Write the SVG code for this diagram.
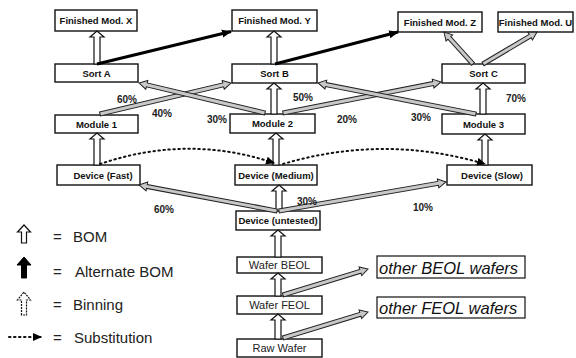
<svg xmlns="http://www.w3.org/2000/svg" width="576" height="358" viewBox="0 0 576 358">
<style>
.box{fill:#fff;stroke:#111;stroke-width:1.4}
.lbl{font-family:"Liberation Sans",Arial,sans-serif;font-size:9.5px;font-weight:bold;fill:#111;text-anchor:middle}
.wl{font-family:"Liberation Sans",Arial,sans-serif;font-size:11px;fill:#222;text-anchor:middle}
.ow{font-family:"Liberation Sans",Arial,sans-serif;font-size:16.5px;font-style:italic;fill:#111}
.pct{font-family:"Liberation Sans",Arial,sans-serif;font-size:10px;font-weight:bold;fill:#222;text-anchor:middle}
.leg{font-family:"Liberation Sans",Arial,sans-serif;font-size:15px;fill:#222}
.bom{fill:#fff;stroke:#111;stroke-width:1.2}
.bin{fill:#c8c8c8;stroke:#222;stroke-width:1}
.alt{stroke:#000;stroke-width:3;fill:none}
.sub{stroke:#111;stroke-width:2;fill:none;stroke-dasharray:1.5 3.5;stroke-linecap:round}
</style>
<defs>
<marker id="solid" markerWidth="10" markerHeight="10" refX="9" refY="5" orient="auto" markerUnits="userSpaceOnUse"><path d="M0,1 L10,5 L0,9 Z" fill="#000"/></marker>
<marker id="dot" markerWidth="9" markerHeight="9" refX="8" refY="4.5" orient="auto" markerUnits="userSpaceOnUse"><path d="M0,0.5 L9,4.5 L0,8.5 Z" fill="#000"/></marker>
</defs>
<rect width="576" height="358" fill="#fff"/>

<g id="nodes">
<g id="finX"><rect class="box" x="55" y="10" width="82" height="21"/><text class="lbl" x="96" y="24">Finished Mod. X</text></g>
<g id="finY"><rect class="box" x="232" y="10" width="85" height="21"/><text class="lbl" x="274.5" y="24">Finished Mod. Y</text></g>
<g id="finZ"><rect class="box" x="398" y="12" width="84" height="20"/><text class="lbl" x="440" y="25.5">Finished Mod. Z</text></g>
<g id="finU"><rect class="box" x="498" y="12" width="75" height="20"/><text class="lbl" x="535.5" y="25.5">Finished Mod. U</text></g>
<g id="sortA"><rect class="box" x="55" y="64" width="83" height="18"/><text class="lbl" x="96.5" y="76.5">Sort A</text></g>
<g id="sortB"><rect class="box" x="232" y="64" width="85" height="19"/><text class="lbl" x="274.5" y="77">Sort B</text></g>
<g id="sortC"><rect class="box" x="442" y="64" width="83" height="19"/><text class="lbl" x="483.5" y="77">Sort C</text></g>
<g id="mod1"><rect class="box" x="55" y="115" width="83" height="18"/><text class="lbl" x="96.5" y="127.5">Module 1</text></g>
<g id="mod2"><rect class="box" x="230" y="114" width="85" height="19"/><text class="lbl" x="272.5" y="127">Module 2</text></g>
<g id="mod3"><rect class="box" x="442" y="114" width="83" height="20"/><text class="lbl" x="483.5" y="127.5">Module 3</text></g>
<g id="devFast"><rect class="box" x="57" y="165" width="83" height="20"/><text class="lbl" x="103" y="178.5">Device (Fast)</text></g>
<g id="devMed"><rect class="box" x="235" y="165" width="82" height="20"/><text class="lbl" x="276" y="178.5">Device (Medium)</text></g>
<g id="devSlow"><rect class="box" x="447" y="165" width="85" height="20"/><text class="lbl" x="492" y="178.5">Device (Slow)</text></g>
<g id="devUnt"><rect class="box" x="236" y="211" width="84" height="19"/><text class="lbl" x="278" y="224">Device (untested)</text></g>
<g id="wafBEOL"><rect class="box" x="237" y="257" width="85" height="16"/><text class="wl" x="279.5" y="269">Wafer BEOL</text></g>
<g id="wafFEOL"><rect class="box" x="237" y="296" width="85" height="18"/><text class="wl" x="279.5" y="309">Wafer FEOL</text></g>
<g id="rawWafer"><rect class="box" x="237" y="339" width="85" height="18"/><text class="wl" x="279.5" y="352">Raw Wafer</text></g>
<g id="otherBEOL"><rect class="box" x="377" y="256" width="148" height="22" style="stroke-width:1.2"/><text class="ow" x="379" y="273.5">other BEOL wafers</text></g>
<g id="otherFEOL"><rect class="box" x="377" y="297" width="148" height="21" style="stroke-width:1.2"/><text class="ow" x="379" y="314">other FEOL wafers</text></g>
</g>

<g id="connectors">
<!-- BOM vertical hollow arrows -->
<path class="bom" d="M94,64 V37 H90 L97,31 L104,37 H100 V64 Z"/>
<path class="bom" d="M271,64 V37 H267 L274,31 L281,37 H277 V64 Z"/>
<path class="bom" d="M271,114 V89 H267 L274,83 L281,89 H277 V114 Z"/>
<path class="bom" d="M480,114 V89 H476 L483,83 L490,89 H486 V114 Z"/>
<path class="bom" d="M94,165 V139 H90 L97,133 L104,139 H100 V165 Z"/>
<path class="bom" d="M273,165 V139 H269 L276,133 L283,139 H279 V165 Z"/>
<path class="bom" d="M482,165 V140 H478 L485,134 L492,140 H488 V165 Z"/>
<path class="bom" d="M276,211 V191 H272 L279,185 L286,191 H282 V211 Z"/>
<path class="bom" d="M275,257 V236 H271 L278,230 L285,236 H281 V257 Z"/>
<path class="bom" d="M275,296 V279 H271 L278,273 L285,279 H281 V296 Z"/>
<path class="bom" d="M275,339 V320 H271 L278,314 L285,320 H281 V339 Z"/>

<!-- Alternate BOM -->
<line class="alt" x1="97" y1="64" x2="231" y2="31.5" marker-end="url(#solid)"/>
<line class="alt" x1="275" y1="64" x2="398" y2="32" marker-end="url(#solid)"/>

<!-- Binning -->
<path class="bin" transform="translate(100,114) rotate(-13.31)" d="M0,-2 H126.6 V-4.5 L134.6,0 L126.6,4.5 V2 H0 Z"/>
<path class="bin" transform="translate(265,113) rotate(-166.61)" d="M0,-2 H121.5 V-4.5 L129.5,0 L121.5,4.5 V2 H0 Z"/>
<path class="bin" transform="translate(283,113) rotate(-11.10)" d="M0,-2 H153 V-4.5 L161,0 L153,4.5 V2 H0 Z"/>
<path class="bin" transform="translate(476,114) rotate(-168.90)" d="M0,-2 H153 V-4.5 L161,0 L153,4.5 V2 H0 Z"/>
<path class="bin" transform="translate(277,211) rotate(-169.33)" d="M0,-2 H132.4 V-4.5 L140.4,0 L132.4,4.5 V2 H0 Z"/>
<path class="bin" transform="translate(279,211) rotate(-9.85)" d="M0,-2 H161.5 V-4.5 L169.5,0 L161.5,4.5 V2 H0 Z"/>
<path class="bin" transform="translate(473,64) rotate(-132.18)" d="M0,-2 H35.2 V-4.5 L43.2,0 L35.2,4.5 V2 H0 Z"/>
<path class="bin" transform="translate(483,64) rotate(-30.65)" d="M0,-2 H54.8 V-4.5 L62.8,0 L54.8,4.5 V2 H0 Z"/>
<path class="bin" transform="translate(283,295) rotate(-17.01)" d="M0,-2 H80.9 V-4.5 L88.9,0 L80.9,4.5 V2 H0 Z"/>
<path class="bin" transform="translate(283,338) rotate(-17.01)" d="M0,-2 H80.9 V-4.5 L88.9,0 L80.9,4.5 V2 H0 Z"/>

<!-- Substitution -->
<path class="sub" d="M100,164 Q188,134 274,163" marker-end="url(#dot)"/>
<path class="sub" d="M283,164 Q384,134 485,164" marker-end="url(#dot)"/>
</g>

<g id="percentages">
<text class="pct" x="127" y="102.5">60%</text>
<text class="pct" x="162" y="116.5">40%</text>
<text class="pct" x="217" y="122.5">30%</text>
<text class="pct" x="303" y="100.5">50%</text>
<text class="pct" x="347" y="122.5">20%</text>
<text class="pct" x="421" y="120.5">30%</text>
<text class="pct" x="516" y="101.5">70%</text>
<text class="pct" x="164" y="212.5">60%</text>
<text class="pct" x="307" y="204.5">30%</text>
<text class="pct" x="423" y="210.5">10%</text>
</g>

<g id="legend">
<path class="bom" d="M21.5,243 V232 H17.5 L24,225 L30.5,232 H26.5 V243 Z"/>
<path d="M21.5,278 V265 H17 L24,257 L31,265 H26.5 V278 Z" fill="#000" stroke="#000" stroke-width="1"/>
<path class="bom" style="stroke-dasharray:2 1" d="M21.5,315 V300 H17.5 L24,292 L30.5,300 H26.5 V315 Z"/>
<line class="sub" x1="9" y1="337" x2="41" y2="337" marker-end="url(#dot)"/>
<text class="leg" x="53" y="242">=</text><text class="leg" x="73" y="242">BOM</text>
<text class="leg" x="53" y="277">=</text><text class="leg" x="75" y="277">Alternate BOM</text>
<text class="leg" x="53" y="310">=</text><text class="leg" x="73" y="310">Binning</text>
<text class="leg" x="53" y="343">=</text><text class="leg" x="74" y="343">Substitution</text>
</g>
</svg>
